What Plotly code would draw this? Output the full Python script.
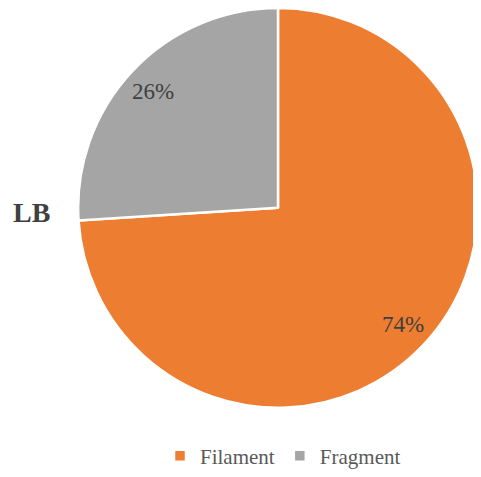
import math
import plotly.graph_objects as go

categories = ["Filament", "Fragment"]
values = [74, 26]
colors = ["#ED7D31", "#A5A5A5"]
side_label = "LB"

OFF = 8  # default page body margin
W, H = 481 - OFF, 477 - OFF
cx, cy, r = 278 - OFF, 210 - OFF, 202  # pie centre / radius in pixels


def clip(v):
    return min(1.0, max(0.0, v))


fig = go.Figure()
fig.add_trace(go.Pie(
    labels=categories,
    values=values,
    sort=False,
    direction="clockwise",
    rotation=0,
    marker=dict(colors=colors, line=dict(color="white", width=2.5)),
    textinfo="none",
    hoverinfo="label+percent",
    domain=dict(x=[clip((cx - r) / W), clip((cx + r) / W)],
                y=[clip(1 - (cy + r) / H), clip(1 - (cy - r) / H)]),
))

total = sum(values)
start = 0.0
annotations = []
for v in values:
    frac = v / total
    mid = (start + frac / 2) * 2 * math.pi  # clockwise from 12 o'clock
    start += frac
    px = cx + 0.85 * r * math.sin(mid)
    py = cy - 0.85 * r * math.cos(mid)
    annotations.append(dict(
        x=px / W, y=1 - py / H, xref="paper", yref="paper",
        text=f"{round(frac * 100)}%", showarrow=False,
        font=dict(family="Liberation Serif", size=23, color="#404040"),
        xanchor="center", yanchor="middle",
    ))

annotations.append(dict(
    x=(31 - OFF) / W, y=1 - (215 - OFF) / H, xref="paper", yref="paper",
    text=f"<b>{side_label}</b>", showarrow=False,
    font=dict(family="Liberation Serif", size=28, color="#404040"),
    xanchor="center", yanchor="middle",
))

fig.update_layout(
    width=W, height=H,
    margin=dict(l=0, r=0, t=0, b=0),
    paper_bgcolor="white",
    plot_bgcolor="white",
    annotations=annotations,
    showlegend=True,
    legend=dict(
        orientation="h", x=(283 - OFF) / W, y=1 - (461 - OFF) / H,
        xanchor="center", yanchor="middle",
        font=dict(family="Liberation Serif", size=21, color="#595959"),
        traceorder="normal",
    ),
)

fig.write_html("out.html")
